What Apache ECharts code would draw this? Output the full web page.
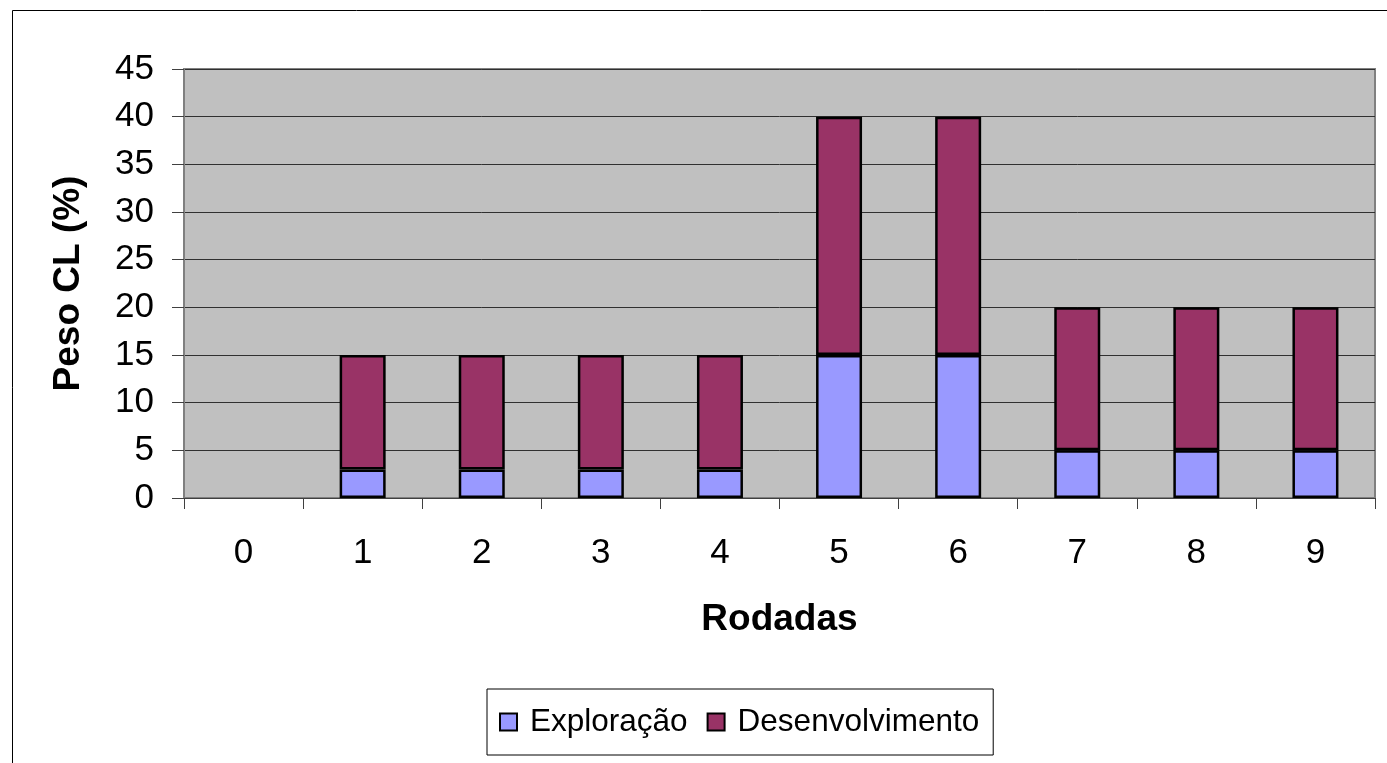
<!DOCTYPE html>
<html>
<head>
<meta charset="utf-8">
<script src="https://cdn.jsdelivr.net/npm/echarts@6/dist/echarts.min.js"></script>
<style>
html,body{margin:0;padding:0;background:#fff;}
#chart{width:1387px;height:763px;}
</style>
</head>
<body>
<div id="chart"></div>
<script>
const categories = ['0','1','2','3','4','5','6','7','8','9'];
const exploracao = [0, 3, 3, 3, 3, 15, 15, 5, 5, 5];
const desenvolvimento = [0, 12, 12, 12, 12, 25, 25, 15, 15, 15];
const seriesNames = ['Exploração', 'Desenvolvimento'];
const yTicks = { min: 0, max: 45, interval: 5 };

const font = 'Liberation Sans, Arial, sans-serif';
const toBar = arr => arr.map(v => v === 0 ? null : v);

const chart = echarts.init(document.getElementById('chart'), null, {renderer: 'canvas'});
chart.setOption({
  animation: false,
  backgroundColor: '#ffffff',
  graphic: [{
    type: 'rect', left: 10, top: 8, z: -10, silent: true,
    shape: {width: 1400, height: 800},
    style: {fill: 'none', stroke: '#000', lineWidth: 1}
  }],
  grid: {
    left: 184, right: 12, top: 69, bottom: 265,
    show: true, backgroundColor: '#C0C0C0', borderColor: '#808080', borderWidth: 2
  },
  legend: {
    left: 487, top: 689,
    padding: [17, 14, 17, 12],
    borderColor: '#000', borderWidth: 1,
    itemWidth: 17, itemHeight: 17, itemGap: 19,
    icon: 'rect',
    itemStyle: {borderColor: '#000', borderWidth: 2},
    textStyle: {fontFamily: font, fontSize: 31.5, color: '#000', padding: [0, 0, 0, 8]},
    data: seriesNames
  },
  xAxis: {
    type: 'category',
    data: categories,
    boundaryGap: true,
    name: 'Rodadas',
    nameLocation: 'middle',
    nameGap: 103,
    nameTextStyle: {fontFamily: font, fontSize: 37, fontWeight: 'bold', color: '#000'},
    axisLine: {show: true, lineStyle: {color: '#404040', width: 1}},
    axisTick: {show: true, interval: 0, length: 11, lineStyle: {color: '#404040'}},
    axisLabel: {interval: 0, margin: 38, fontFamily: font, fontSize: 35, color: '#000'},
    splitLine: {show: false}
  },
  yAxis: {
    type: 'value',
    min: yTicks.min, max: yTicks.max, interval: yTicks.interval,
    name: 'Peso CL (%)',
    nameLocation: 'middle',
    nameGap: 97,
    nameTextStyle: {fontFamily: font, fontSize: 37, fontWeight: 'bold', color: '#000'},
    axisLine: {show: true, lineStyle: {color: '#808080', width: 1}},
    axisTick: {show: true, length: 12, lineStyle: {color: '#404040'}},
    axisLabel: {margin: 30, fontFamily: font, fontSize: 35, color: '#000'},
    splitLine: {show: true, lineStyle: {color: '#303030', width: 1}}
  },
  series: [
    {
      name: seriesNames[0], type: 'bar', stack: 'total', barWidth: 46,
      data: toBar(exploracao),
      itemStyle: {color: '#9999FF', borderColor: '#000', borderWidth: 2.5}
    },
    {
      name: seriesNames[1], type: 'bar', stack: 'total', barWidth: 46,
      data: toBar(desenvolvimento),
      itemStyle: {color: '#993366', borderColor: '#000', borderWidth: 2.5}
    }
  ]
});
</script>
</body>
</html>
